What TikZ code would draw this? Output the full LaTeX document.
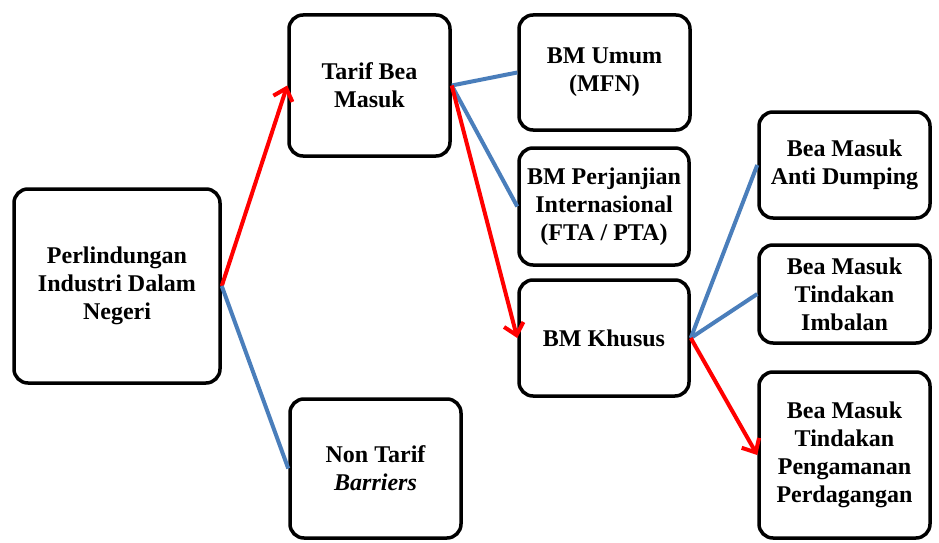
\documentclass[tikz,border=0pt]{standalone}
\usepackage{fontspec}
\setmainfont{Liberation Serif}
\usetikzlibrary{arrows.meta}
\definecolor{lineblue}{RGB}{74,126,187}
\definecolor{linered}{RGB}{255,0,0}
\begin{document}
\begin{tikzpicture}[x=1pt,y=-1pt,
  box/.style={draw=black,line width=3.5pt,rounded corners=14pt,fill=white,
    align=center,inner sep=2pt,
    font=\fontsize{24}{28}\selectfont\bfseries},
  blueline/.style={draw=lineblue,line width=4pt},
  redarrow/.style={draw=linered,line width=4pt,-{Straight Barb[length=11pt,width=20pt,line width=4pt]}},
  redline/.style={draw=linered,line width=4pt}]
\useasboundingbox (0,0) rectangle (939,543);
\node[box,minimum width=206pt,minimum height=194pt] (p) at (117,286) {Perlindungan\\Industri Dalam\\Negeri};
\node[box,minimum width=161pt,minimum height=141pt] (t) at (369.5,85.5) {Tarif Bea\\Masuk};
\node[box,minimum width=171pt,minimum height=139pt] (nt) at (375.5,468.5) {Non Tarif\\\textit{Barriers}};
\node[box,minimum width=171pt,minimum height=115pt] (u) at (604.5,72.5) {BM Umum\\(MFN)};
\node[box,minimum width=170pt,minimum height=117pt] (j) at (604,206.5) {BM Perjanjian\\Internasional\\(FTA / PTA)};
\node[box,minimum width=170pt,minimum height=116pt] (k) at (604,338) {BM Khusus};
\node[box,minimum width=171pt,minimum height=106pt] (ad) at (844.5,165) {Bea Masuk\\Anti Dumping};
\node[box,minimum width=171pt,minimum height=98pt] (im) at (844.5,294) {Bea Masuk\\Tindakan\\Imbalan};
\node[box,minimum width=171pt,minimum height=166pt] (pg) at (844.5,455) {Bea Masuk\\Tindakan\\Pengamanan\\Perdagangan};
\draw[redarrow] (p.east) -- (t.west);
\draw[blueline] (p.east) -- (nt.west);
\draw[blueline] (t.east) -- (u.west);
\draw[blueline] (t.east) -- (j.west);
\draw[redarrow] (t.east) -- (k.west);
\draw[blueline] (k.east) -- (ad.west);
\draw[blueline] (k.east) -- (im.west);
\draw[redarrow] (k.east) -- (pg.west);
\end{tikzpicture}
\end{document}
